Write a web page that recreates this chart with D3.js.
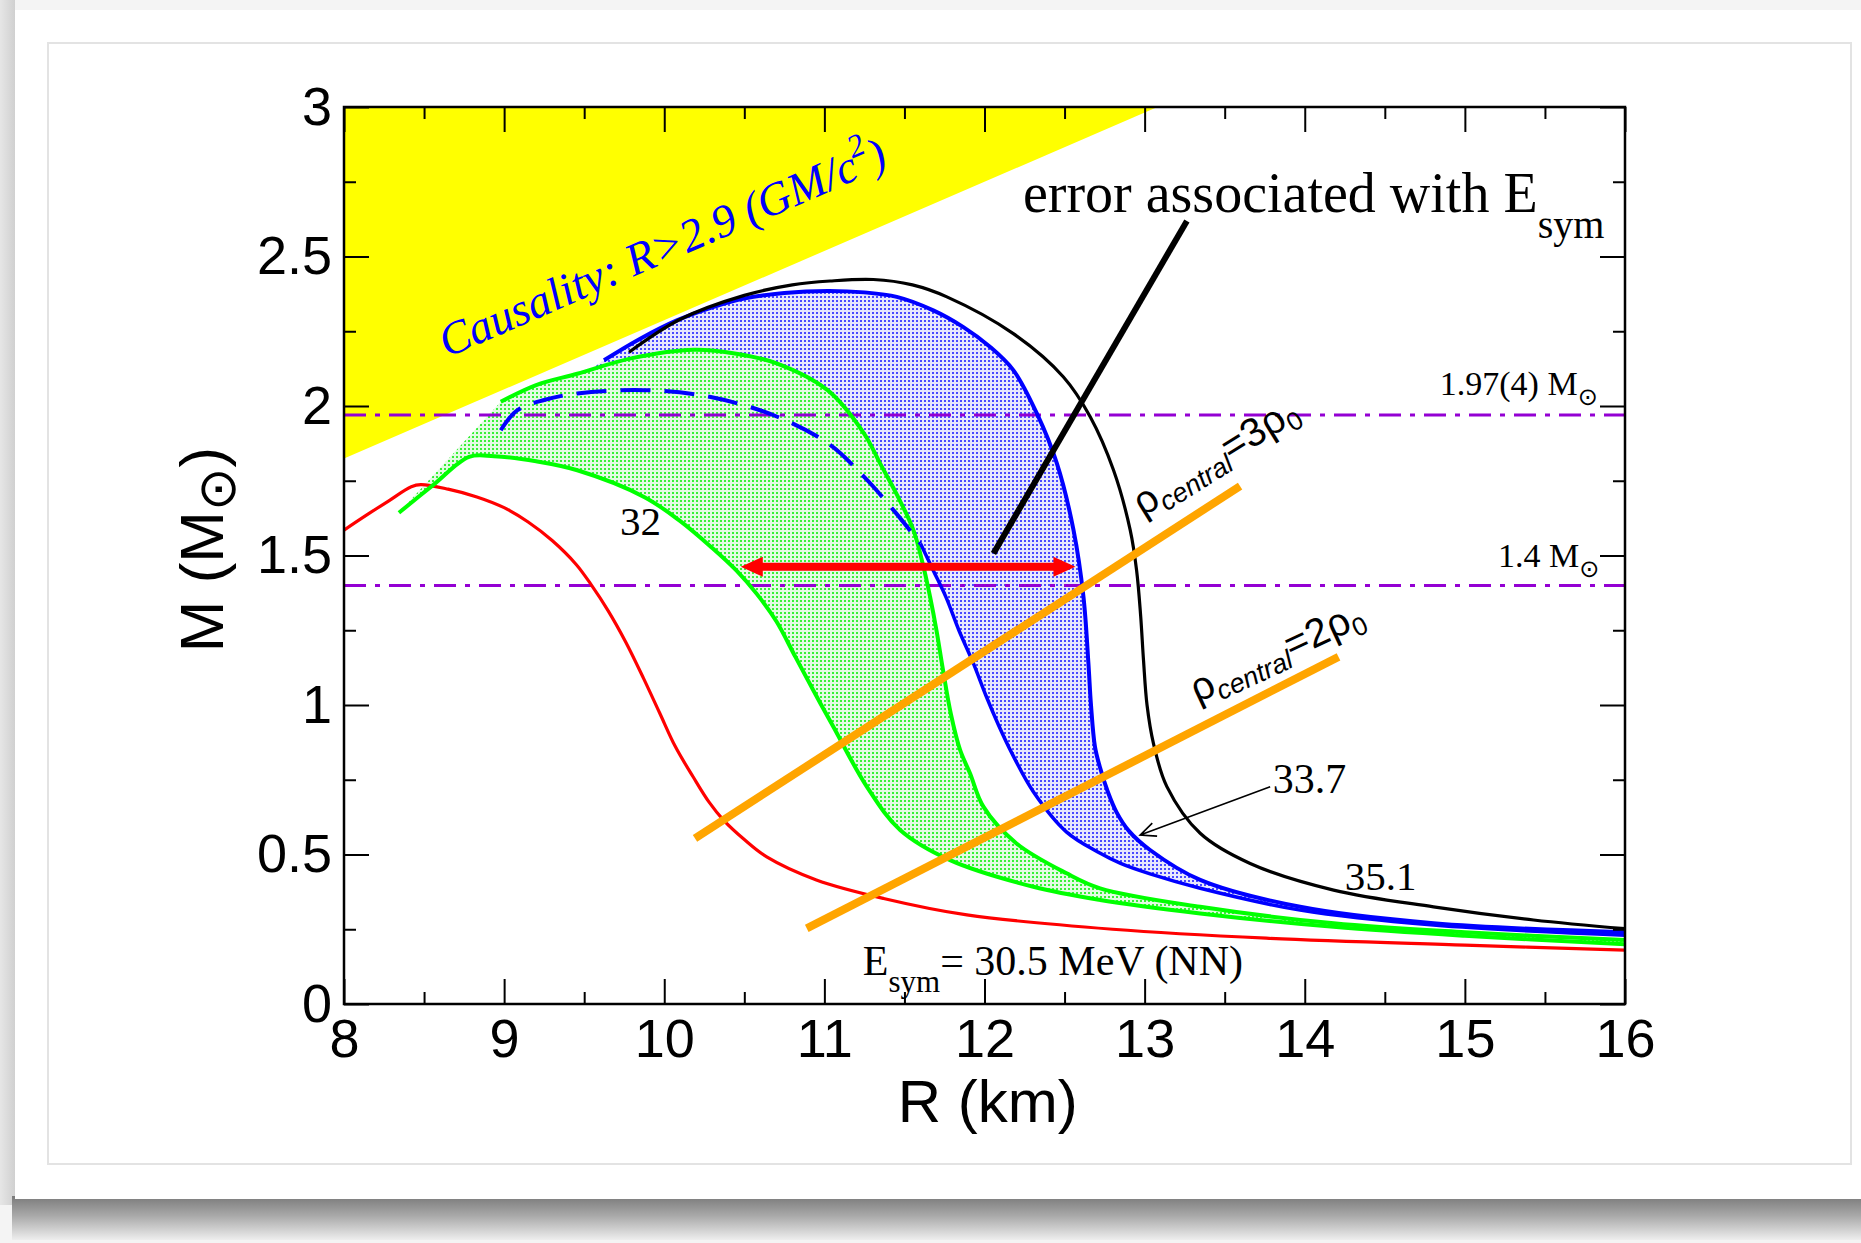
<!DOCTYPE html>
<html>
<head>
<meta charset="utf-8">
<script src="https://cdn.jsdelivr.net/npm/d3@7"></script>
<style>
body{margin:0;background:#fff}
</style>
</head>
<body>
<script>
// M-R curves as [R (km), M (Msun)]
var red305=[[8.0,1.585],[8.14,1.635],[8.28,1.683],[8.42,1.73],[8.48,1.737],[8.65,1.722],[8.83,1.696],[9.0,1.66],[9.15,1.612],[9.3,1.55],[9.45,1.47],[9.54,1.405],[9.65,1.315],[9.76,1.21],[9.87,1.09],[9.97,0.975],[10.07,0.86],[10.18,0.76],[10.28,0.675],[10.37,0.615],[10.5,0.55],[10.64,0.492],[10.95,0.415],[11.37,0.353],[11.89,0.298],[12.8,0.25],[13.76,0.22],[15.0,0.197],[16.0,0.18]]
var green32=[[8.343,1.643],[8.56,1.737],[8.781,1.83],[8.937,1.832],[9.2,1.815],[9.457,1.785],[9.874,1.696],[10.1,1.615],[10.3,1.525],[10.45,1.45],[10.58,1.37],[10.7,1.28],[10.82,1.16],[10.94,1.04],[11.056,0.927],[11.265,0.727],[11.473,0.582],[11.785,0.481],[12.305,0.392],[12.722,0.348],[13.347,0.303],[14.18,0.258],[15.0,0.228],[16.0,0.2]]
var greenUpper=[[8.979,2.014],[9.2,2.07],[9.457,2.108],[9.8,2.16],[10.186,2.188],[10.45,2.175],[10.706,2.142],[11.02,2.053],[11.248,1.908],[11.348,1.808],[11.456,1.7],[11.556,1.585],[11.62,1.46],[11.66,1.362],[11.7,1.25],[11.74,1.12],[11.79,0.97],[11.848,0.849],[11.91,0.771],[11.993,0.66],[12.2,0.537],[12.513,0.437],[12.722,0.387],[13.347,0.325],[14.18,0.27],[15.0,0.24],[16.0,0.214]]
var blueDashed=[[8.979,1.919],[9.083,1.986],[9.25,2.02],[9.457,2.042],[9.874,2.053],[10.29,2.03],[10.706,1.964],[11.036,1.87],[11.248,1.763],[11.306,1.73],[11.45,1.64],[11.6,1.54]]
var blueInner=[[11.6,1.54],[11.68,1.45],[11.76,1.36],[11.84,1.25],[11.93,1.14],[12.01,1.03],[12.09,0.93],[12.17,0.84],[12.305,0.71],[12.513,0.575],[12.72,0.505],[12.85,0.47],[13.034,0.435],[13.347,0.387],[13.971,0.314],[14.804,0.264],[16.0,0.23]]
var blueOuter=[[9.624,2.153],[9.85,2.225],[10.082,2.287],[10.3,2.33],[10.498,2.359],[10.75,2.378],[11.02,2.385],[11.25,2.38],[11.452,2.365],[11.68,2.32],[11.868,2.264],[12.03,2.2],[12.18,2.12],[12.327,1.975],[12.452,1.808],[12.556,1.585],[12.618,1.362],[12.649,1.139],[12.665,1.0],[12.69,0.86],[12.722,0.79],[12.77,0.71],[12.826,0.64],[12.9,0.58],[13.034,0.515],[13.347,0.415],[13.971,0.325],[14.804,0.27],[16.0,0.24]]
var black351=[[9.78,2.18],[10.1,2.29],[10.5,2.37],[10.8,2.405],[11.036,2.418],[11.306,2.423],[11.55,2.405],[11.765,2.365],[12.18,2.242],[12.493,2.097],[12.66,1.964],[12.806,1.785],[12.91,1.585],[12.95,1.45],[12.975,1.3],[12.993,1.15],[13.015,1.0],[13.055,0.872],[13.139,0.727],[13.347,0.571],[13.659,0.47],[14.18,0.381],[14.804,0.325],[15.429,0.281],[16.0,0.252]]

var causality=[[8,1.824],[8,3],[13.08,3]]
var refMasses=[1.97,1.4]
var rho3=[[10.192,0.554],[13.596,1.732]]
var rho2=[[10.89,0.253],[14.211,1.161]]
var errPointer=[[13.264,2.619],[12.056,1.507]]
var errArrow=[[10.478,1.462],[12.568,1.462]]
var arrow337=[[13.784,0.727],[12.972,0.565]]

var xTicks=[8,9,10,11,12,13,14,15,16]
var xMinor=[8.5,9.5,10.5,11.5,12.5,13.5,14.5,15.5]
var yTicks=[0,0.5,1,1.5,2,2.5,3]
var yMinor=[0.25,0.75,1.25,1.75,2.25,2.75]

var W=1861,H=1243
var box={left:344,right:1625,top:107,bottom:1004}

var svg=d3.select("body").append("svg").attr("width",W).attr("height",H)
var defs=svg.append("defs")

// page card + shadow
{
	let g1=defs.append("linearGradient").attr("id","shadowV").attr("x1",0).attr("y1",0).attr("x2",0).attr("y2",1)
	g1.append("stop").attr("offset",0).attr("stop-color","#7a7a7a")
	g1.append("stop").attr("offset",0.45).attr("stop-color","#a9a9a9")
	g1.append("stop").attr("offset",1).attr("stop-color","#eeeeee")
	let g2=defs.append("linearGradient").attr("id","edgeH").attr("x1",0).attr("y1",0).attr("x2",1).attr("y2",0)
	g2.append("stop").attr("offset",0).attr("stop-color","#e6e6e6")
	g2.append("stop").attr("offset",1).attr("stop-color","#d0d0d0")
}
svg.append("rect").attr("width",W).attr("height",H).attr("fill","#f4f4f4")
svg.append("rect").attr("x",0).attr("y",0).attr("width",15).attr("height",1205).attr("fill","url(#edgeH)")
svg.append("rect").attr("x",12).attr("y",1196).attr("width",W-12).attr("height",44).attr("fill","url(#shadowV)")
svg.append("rect").attr("x",15).attr("y",10).attr("width",W-15).attr("height",1189).attr("fill","#fff")
svg.append("rect").attr("x",48).attr("y",43).attr("width",1803).attr("height",1121)
	.attr("fill","none").attr("stroke","#e3e3e3").attr("stroke-width",2)

var x=d3.scaleLinear().domain([8,16]).range([box.left,box.right])
var y=d3.scaleLinear().domain([0,3]).range([box.bottom,box.top])

defs.append("clipPath").attr("id","plotclip").append("rect")
	.attr("x",box.left).attr("y",box.top).attr("width",box.right-box.left).attr("height",box.bottom-box.top)

function dotPattern(id,bg,color){
	let p=defs.append("pattern").attr("id",id).attr("width",4).attr("height",4).attr("patternUnits","userSpaceOnUse")
	p.append("rect").attr("width",4).attr("height",4).attr("fill",bg)
	p.append("rect").attr("width",2).attr("height",2).attr("fill",color)
}
dotPattern("blueDots","#e8e8fd","#4a4aff")
dotPattern("greenDots","#e4fbe4","#38f038")

var line=d3.line().x(d=>x(d[0])).y(d=>y(d[1])).curve(d3.curveCatmullRom.alpha(0.5))
var straight=d3.line().x(d=>x(d[0])).y(d=>y(d[1]))

function band(outer,inner){
	return line(outer)+line(inner.slice().reverse()).replace(/^M/,"L")+"Z"
}

var plot=svg.append("g").attr("clip-path","url(#plotclip)")

plot.append("path").attr("d",straight(causality)+"Z").attr("fill","#ffff00")

plot.append("path").attr("d",band(blueOuter,blueDashed.concat(blueInner.slice(1))))
	.attr("fill","url(#blueDots)").attr("stroke","none")
plot.append("path").attr("d",band(green32,greenUpper))
	.attr("fill","url(#greenDots)").attr("stroke","none")

plot.selectAll("line.ref").data(refMasses).join("line").attr("class","ref")
	.attr("x1",x(8)).attr("x2",x(16)).attr("y1",d=>y(d)).attr("y2",d=>y(d))
	.attr("stroke","#9400d3").attr("stroke-width",3).attr("stroke-dasharray","22,9,5,9")

var curves=[
	{data:red305,color:"#ff0000",w:3.2},
	{data:green32,color:"#00ff00",w:4},
	{data:greenUpper,color:"#00ff00",w:4},
	{data:blueInner,color:"#0000ff",w:3.5},
	{data:blueOuter,color:"#0000ff",w:4},
	{data:black351,color:"#000000",w:3.2},
]
plot.selectAll("path.curve").data(curves).join("path").attr("class","curve")
	.attr("d",d=>line(d.data)).attr("fill","none")
	.attr("stroke",d=>d.color).attr("stroke-width",d=>d.w)
plot.append("path").attr("d",line(blueDashed)).attr("fill","none")
	.attr("stroke","#0000ff").attr("stroke-width",4).attr("stroke-dasharray","30,14")

plot.selectAll("path.rho").data([rho3,rho2]).join("path").attr("class","rho")
	.attr("d",d=>straight(d)).attr("stroke","#ffa500").attr("stroke-width",8).attr("fill","none")

plot.append("path").attr("d",straight(errPointer)).attr("stroke","#000").attr("stroke-width",6)

// red double arrow
{
	let x0=x(errArrow[0][0]),x1=x(errArrow[1][0]),yy=y(errArrow[0][1])
	let hl=22,hw=10
	plot.append("line").attr("x1",x0+hl-2).attr("x2",x1-hl+2).attr("y1",yy).attr("y2",yy)
		.attr("stroke","#ff0000").attr("stroke-width",8)
	plot.append("path").attr("fill","#ff0000")
		.attr("d","M"+x0+","+yy+"L"+(x0+hl)+","+(yy-hw)+"L"+(x0+hl)+","+(yy+hw)+"Z"
			+"M"+x1+","+yy+"L"+(x1-hl)+","+(yy-hw)+"L"+(x1-hl)+","+(yy+hw)+"Z")
}
// thin arrow to 33.7 band
{
	let ax=x(arrow337[0][0]),ay=y(arrow337[0][1]),bx=x(arrow337[1][0]),by=y(arrow337[1][1])
	let ang=Math.atan2(ay-by,ax-bx),len=17,sp=0.42
	plot.append("path").attr("fill","none").attr("stroke","#000").attr("stroke-width",1.6)
		.attr("d","M"+ax+","+ay+"L"+bx+","+by
			+"M"+(bx+len*Math.cos(ang+sp))+","+(by+len*Math.sin(ang+sp))+"L"+bx+","+by
			+"L"+(bx+len*Math.cos(ang-sp))+","+(by+len*Math.sin(ang-sp)))
}

// axes, ticks inward on all four sides
function styleAxis(g){
	g.select(".domain").remove()
	g.selectAll(".tick line").attr("stroke","#000").attr("stroke-width",2)
	g.selectAll("text").attr("fill","#000")
	g.attr("font-family","'Liberation Sans',Arial,sans-serif").attr("font-size",54)
}
var fmt=d=>String(d)
svg.append("g").attr("transform","translate(0,"+box.bottom+")")
	.call(d3.axisBottom(x).tickValues(xTicks).tickSize(-25).tickPadding(15).tickFormat(fmt)).call(styleAxis)
svg.append("g").attr("transform","translate(0,"+box.bottom+")")
	.call(d3.axisBottom(x).tickValues(xMinor).tickSize(-12).tickFormat("")).call(styleAxis)
svg.append("g").attr("transform","translate(0,"+box.top+")")
	.call(d3.axisTop(x).tickValues(xTicks).tickSize(-25).tickFormat("")).call(styleAxis)
svg.append("g").attr("transform","translate(0,"+box.top+")")
	.call(d3.axisTop(x).tickValues(xMinor).tickSize(-12).tickFormat("")).call(styleAxis)
svg.append("g").attr("transform","translate("+box.left+",0)")
	.call(d3.axisLeft(y).tickValues(yTicks).tickSize(-25).tickPadding(12).tickFormat(fmt)).call(styleAxis)
svg.append("g").attr("transform","translate("+box.left+",0)")
	.call(d3.axisLeft(y).tickValues(yMinor).tickSize(-12).tickFormat("")).call(styleAxis)
svg.append("g").attr("transform","translate("+box.right+",0)")
	.call(d3.axisRight(y).tickValues(yTicks).tickSize(-25).tickFormat("")).call(styleAxis)
svg.append("g").attr("transform","translate("+box.right+",0)")
	.call(d3.axisRight(y).tickValues(yMinor).tickSize(-12).tickFormat("")).call(styleAxis)

svg.append("rect").attr("x",box.left).attr("y",box.top)
	.attr("width",box.right-box.left).attr("height",box.bottom-box.top)
	.attr("fill","none").attr("stroke","#000").attr("stroke-width",2.5)

// axis titles
var sans="'Liberation Sans',Arial,sans-serif"
var serif="'Liberation Serif','Times New Roman',serif"
svg.append("text").attr("x",x(12.02)).attr("y",box.bottom+118)
	.attr("text-anchor","middle").attr("font-family",sans).attr("font-size",60).text("R (km)")
{
	let t=svg.append("text").attr("transform","translate(223,"+y(1.52)+") rotate(-90)")
		.attr("text-anchor","middle").attr("font-family",sans).attr("font-size",62)
	t.append("tspan").text("M (M")
	t.append("tspan").attr("font-size",52).attr("dy",12).attr("font-family","'DejaVu Sans',sans-serif").text("\u2299")
	t.append("tspan").attr("dy",-12).text(")")
}

// annotations
function subText(px,py,size,parts,attrs){
	let t=svg.append("text").attr("x",px).attr("y",py).attr("font-size",size)
	for(let k in attrs){t.attr(k,attrs[k])}
	for(const p of parts){
		let s=t.append("tspan").text(p.t)
		if(p.dy) s.attr("dy",p.dy)
		if(p.size) s.attr("font-size",p.size)
		if(p.style) s.attr("font-style",p.style)
		if(p.family) s.attr("font-family",p.family)
	}
	return t
}
subText(x(12.24),y(2.649),56,[{t:"error associated with E"},{t:"sym",size:40,dy:26}],{"font-family":serif})
subText(x(9.724),y(1.569),41,[{t:"32"}],{"font-family":serif})
subText(x(13.80),y(0.706),42,[{t:"33.7"}],{"font-family":serif})
subText(x(14.25),y(0.381),41,[{t:"35.1"}],{"font-family":serif})
subText(x(11.24),y(0.097),42,[{t:"E"},{t:"sym",size:31,dy:17},{t:"= 30.5 MeV (NN)",dy:-17}],{"font-family":serif})
subText(x(15.83),y(2.037),34,[{t:"1.97(4) M"},{t:"\u2299",size:24,dy:10,family:"'DejaVu Sans',sans-serif"}],{"font-family":serif,"text-anchor":"end"})
subText(x(15.84),y(1.462),34,[{t:"1.4 M"},{t:"\u2299",size:24,dy:10,family:"'DejaVu Sans',sans-serif"}],{"font-family":serif,"text-anchor":"end"})
subText(0,0,46,[{t:"Causality: R>2.9 (GM/c"},{t:"2",size:32,dy:-21},{t:")",dy:21}],
	{"font-family":serif,"font-style":"italic","fill":"#0000ff","transform":"translate("+x(8.643)+","+y(2.161)+") rotate(-23.5)"})
subText(0,0,40,[{t:"\u03c1"},{t:"central",size:27,dy:8,style:"italic"},{t:"=3\u03c1",dy:-8},{t:"0",size:26,dy:8}],
	{"font-family":sans,"transform":"translate("+x(12.99)+","+y(1.629)+") rotate(-32)"})
subText(0,0,40,[{t:"\u03c1"},{t:"central",size:27,dy:8,style:"italic"},{t:"=2\u03c1",dy:-8},{t:"0",size:26,dy:8}],
	{"font-family":sans,"transform":"translate("+x(13.33)+","+y(1.007)+") rotate(-25)"})
</script>
</body>
</html>
